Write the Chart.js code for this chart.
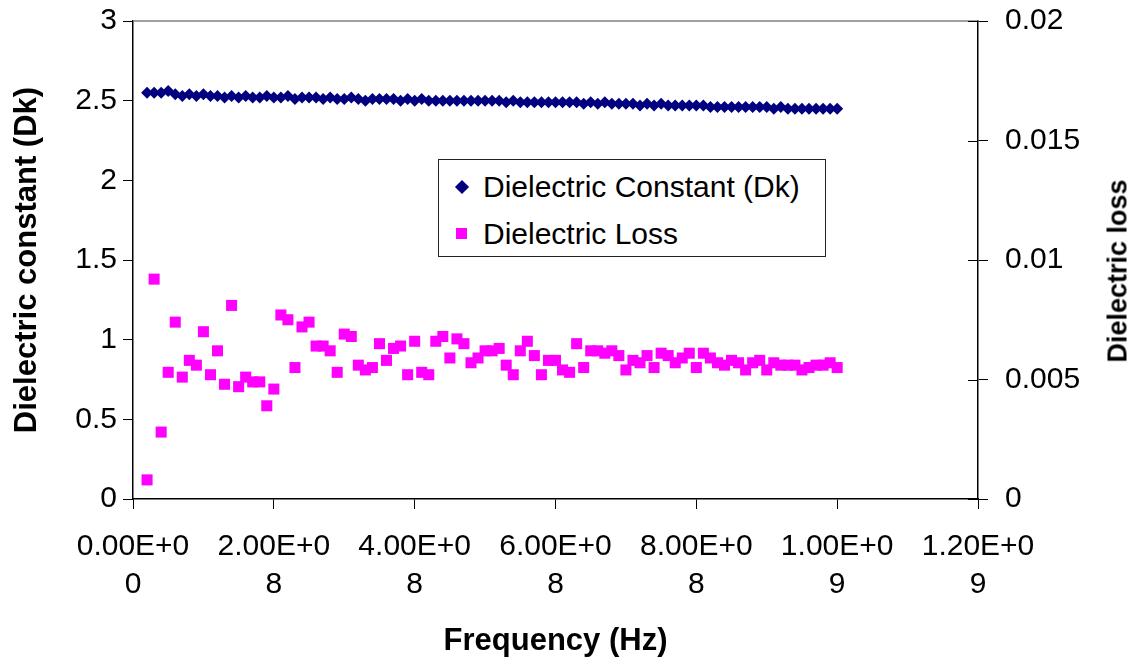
<!DOCTYPE html>
<html>
<head>
<meta charset="utf-8">
<script src="https://cdn.jsdelivr.net/npm/chart.js@4.4.1/dist/chart.umd.min.js"></script>
<style>
html, body { margin: 0; padding: 0; background: #fff; }
#wrap { position: relative; width: 1134px; height: 660px; font-family: "Liberation Sans", Arial, sans-serif; }
#legend { position: absolute; left: 438px; top: 159px; width: 386px; height: 96px; border: 1px solid #222; background: #fff; }
.item { position: absolute; left: 0; height: 40px; line-height: 40px; font-size: 30px; color: #000; white-space: nowrap; }
.item span { position: absolute; left: 44px; }
.dia { position: absolute; left: 18px; top: 15px; width: 10px; height: 10px; background: #000080; transform: rotate(45deg); }
.sq { position: absolute; left: 17px; top: 14px; width: 11px; height: 11px; background: #ff00ff; }
#rtitle { position: absolute; left: 1118px; top: 271px; transform: translate(-50%, -50%) rotate(-90deg); font-size: 27px; font-weight: bold; white-space: nowrap; }
</style>
</head>
<body>
<div id="wrap">
  <canvas id="chart" width="1134" height="660"></canvas>
  <div id="legend">
    <div class="item" style="top:7px"><div class="dia"></div><span>Dielectric Constant (Dk)</span></div>
    <div class="item" style="top:54px"><div class="sq"></div><span>Dielectric Loss</span></div>
  </div>
  <div id="rtitle">Dielectric loss</div>
</div>
<script>
// frequency in MHz
var freqMHz = [
    20, 30, 40, 50, 60, 70, 80, 90, 100, 110,
    120, 130, 140, 150, 160, 170, 180, 190, 200, 210,
    220, 230, 240, 250, 260, 270, 280, 290, 300, 310,
    320, 330, 340, 350, 360, 370, 380, 390, 400, 410,
    420, 430, 440, 450, 460, 470, 480, 490, 500, 510,
    520, 530, 540, 550, 560, 570, 580, 590, 600, 610,
    620, 630, 640, 650, 660, 670, 680, 690, 700, 710,
    720, 730, 740, 750, 760, 770, 780, 790, 800, 810,
    820, 830, 840, 850, 860, 870, 880, 890, 900, 910,
    920, 930, 940, 950, 960, 970, 980, 990, 1000
];
var dk = [
    2.55, 2.55, 2.55, 2.56, 2.54, 2.53, 2.54, 2.53, 2.54, 2.53,
    2.53, 2.52, 2.53, 2.52, 2.53, 2.52, 2.52, 2.53, 2.52, 2.52,
    2.53, 2.51, 2.52, 2.52, 2.52, 2.51, 2.52, 2.51, 2.51, 2.52,
    2.51, 2.50, 2.51, 2.51, 2.51, 2.51, 2.50, 2.51, 2.50, 2.51,
    2.50, 2.50, 2.50, 2.50, 2.50, 2.50, 2.50, 2.50, 2.50, 2.50,
    2.50, 2.49, 2.50, 2.49, 2.49, 2.49, 2.49, 2.49, 2.49, 2.49,
    2.49, 2.49, 2.48, 2.49, 2.48, 2.49, 2.48, 2.48, 2.48, 2.48,
    2.47, 2.48, 2.47, 2.48, 2.47, 2.47, 2.47, 2.47, 2.47, 2.47,
    2.46, 2.46, 2.46, 2.46, 2.46, 2.46, 2.46, 2.46, 2.46, 2.45,
    2.46, 2.45, 2.45, 2.45, 2.45, 2.45, 2.45, 2.45, 2.45
];
var loss = [
    0.0008, 0.0092, 0.0028, 0.0053, 0.0074, 0.0051, 0.0058, 0.0056, 0.0070, 0.0052,
    0.0062, 0.0048, 0.0081, 0.0047, 0.0051, 0.0049, 0.0049, 0.0039, 0.0046, 0.0077,
    0.0075, 0.0055, 0.0072, 0.0074, 0.0064, 0.0064, 0.0062, 0.0053, 0.0069, 0.0068,
    0.0056, 0.0054, 0.0055, 0.0065, 0.0058, 0.0063, 0.0064, 0.0052, 0.0066, 0.0053,
    0.0052, 0.0066, 0.0068, 0.0059, 0.0067, 0.0065, 0.0057, 0.0059, 0.0062, 0.0062,
    0.0063, 0.0056, 0.0052, 0.0062, 0.0066, 0.0060, 0.0052, 0.0058, 0.0058, 0.0054,
    0.0053, 0.0065, 0.0055, 0.0062, 0.0062, 0.0061, 0.0062, 0.0060, 0.0054, 0.0058,
    0.0057, 0.0060, 0.0055, 0.0061, 0.0060, 0.0057, 0.0059, 0.0061, 0.0055, 0.0061,
    0.0059, 0.0057, 0.0056, 0.0058, 0.0057, 0.0054, 0.0057, 0.0058, 0.0054, 0.0057,
    0.0056, 0.0056, 0.0056, 0.0054, 0.0055, 0.0056, 0.0056, 0.0057, 0.0055
];
var xTickLabels = [
    ['0.00E+0', '0'], ['2.00E+0', '8'], ['4.00E+0', '8'], ['6.00E+0', '8'],
    ['8.00E+0', '8'], ['1.00E+0', '9'], ['1.20E+0', '9']
];
var yTickLabels = ['0', '0.5', '1', '1.5', '2', '2.5', '3'];
var y2TickLabels = ['0', '0.005', '0.01', '0.015', '0.02'];

var tickFont = { family: '"Liberation Sans", Arial, sans-serif', size: 30 };
var titleFont = { family: '"Liberation Sans", Arial, sans-serif', size: 31, weight: 'bold' };

// top border of plot area + inner half of the secondary axis ticks
var frameLines = {
    id: 'frameLines',
    afterDraw: function (chart) {
        var ctx = chart.ctx, a = chart.chartArea, y2 = chart.scales.y2;
        ctx.save();
        ctx.strokeStyle = '#808080';
        ctx.lineWidth = 1.5;
        ctx.beginPath();
        ctx.moveTo(a.left, a.top);
        ctx.lineTo(a.right, a.top);
        ctx.stroke();
        ctx.strokeStyle = '#000';
        ctx.lineWidth = 1;
        ctx.beginPath();
        y2.ticks.forEach(function (t, i) {
            var py = Math.round(y2.getPixelForTick(i)) + 0.5;
            ctx.moveTo(a.right - 10, py);
            ctx.lineTo(a.right, py);
        });
        ctx.stroke();
        ctx.restore();
    }
};

function fixVertical(w) {
    return function (s) { s.width = w; s.paddingTop = 0; s.paddingBottom = 0; };
}

var ctx = document.getElementById('chart').getContext('2d');
var myChart = new Chart(ctx, {
    type: 'scatter',
    data: {
        datasets: [{
            label: 'Dielectric Constant (Dk)',
            data: freqMHz.map(function (f, i) { return { x: f * 1e6, y: dk[i] }; }),
            yAxisID: 'y',
            pointStyle: 'rectRot',
            pointRadius: 6,
            backgroundColor: '#000080',
            borderColor: '#000080',
            borderWidth: 0
        }, {
            label: 'Dielectric Loss',
            data: freqMHz.map(function (f, i) { return { x: f * 1e6, y: loss[i] }; }),
            yAxisID: 'y2',
            pointStyle: 'rect',
            pointRadius: 7.8,
            backgroundColor: '#ff00ff',
            borderColor: '#ff00ff',
            borderWidth: 0
        }]
    },
    options: {
        responsive: false,
        animation: false,
        layout: { padding: { top: 21, left: 0, right: 0, bottom: 0 } },
        plugins: {
            legend: { display: false },
            tooltip: { enabled: false }
        },
        scales: {
            x: {
                type: 'linear',
                min: 0,
                max: 1.2e9,
                afterFit: function (s) { s.height = 161; s.paddingLeft = 0; s.paddingRight = 0; },
                border: { color: '#000', width: 1.5 },
                grid: { drawOnChartArea: false, tickLength: 10, tickColor: '#000' },
                ticks: {
                    stepSize: 2e8,
                    autoSkip: false,
                    maxRotation: 0,
                    padding: 19,
                    color: '#000',
                    font: { family: tickFont.family, size: 30, lineHeight: 1.27 },
                    callback: function (v, i) { return xTickLabels[i]; }
                },
                title: {
                    display: true,
                    text: 'Frequency (Hz)',
                    color: '#000',
                    font: titleFont,
                    padding: { top: 0, bottom: 0 }
                }
            },
            y: {
                position: 'left',
                min: 0,
                max: 3,
                afterFit: fixVertical(133),
                border: { color: '#000', width: 1.5 },
                grid: { drawOnChartArea: false, tickLength: 10, tickColor: '#000' },
                ticks: {
                    stepSize: 0.5,
                    padding: 6,
                    color: '#000',
                    font: tickFont,
                    callback: function (v, i) { return yTickLabels[i]; }
                },
                title: {
                    display: true,
                    text: 'Dielectric constant (Dk)',
                    color: '#000',
                    font: titleFont,
                    padding: { top: 9, bottom: 0 }
                }
            },
            y2: {
                position: 'right',
                min: 0,
                max: 0.02,
                afterFit: fixVertical(156),
                border: { color: '#000', width: 1.5 },
                grid: { drawOnChartArea: false, tickLength: 10, tickColor: '#000' },
                ticks: {
                    stepSize: 0.005,
                    padding: 17,
                    color: '#000',
                    font: tickFont,
                    callback: function (v, i) { return y2TickLabels[i]; }
                }
            }
        }
    },
    plugins: [frameLines]
});
</script>
</body>
</html>
